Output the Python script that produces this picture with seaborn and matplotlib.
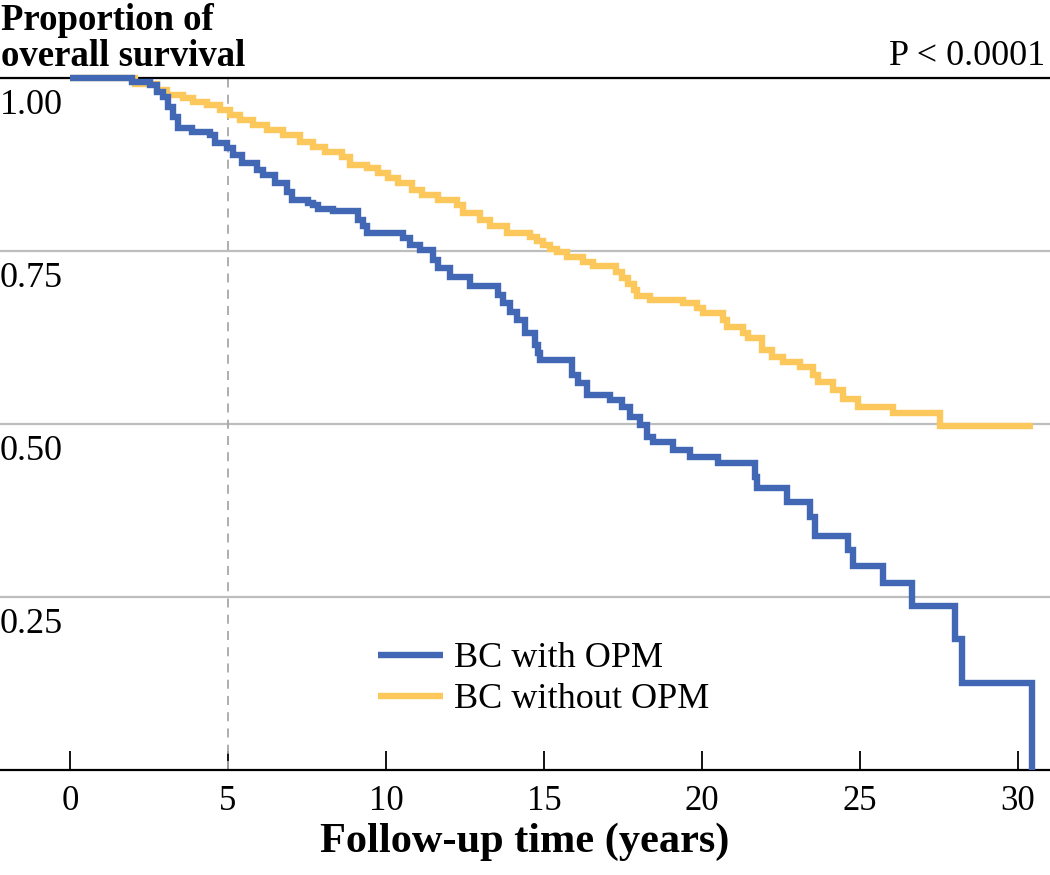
import numpy as np
import pandas as pd
import matplotlib
matplotlib.use("Agg")
import matplotlib.pyplot as plt
import matplotlib.transforms as mtransforms
from matplotlib.lines import Line2D
import seaborn as sns

# ---- data ----
with_time = [0.00, 1.96, 2.53, 2.75, 2.94, 3.10, 3.26, 3.42, 3.86, 4.43, 4.59, 4.97,
             5.16, 5.44, 5.92, 6.11, 6.49, 6.87, 7.03, 7.53, 7.69, 7.85, 8.32, 9.11,
             9.27, 9.40, 10.54, 10.76, 11.08, 11.49, 11.65, 12.03, 12.66, 13.54, 13.70,
             13.92, 14.15, 14.40, 14.72, 14.81, 14.87, 15.89, 16.08, 16.36, 17.09, 17.47,
             17.72, 18.04, 18.26, 18.45, 19.08, 19.62, 20.51, 21.68, 21.74, 22.69, 23.42,
             23.58, 24.62, 24.78, 25.73, 26.65, 28.01, 28.23, 30.44]
with_surv = [1.000, 0.994, 0.990, 0.980, 0.973, 0.958, 0.944, 0.928, 0.922, 0.918, 0.906, 0.899,
             0.889, 0.877, 0.867, 0.860, 0.848, 0.835, 0.824, 0.819, 0.816, 0.811, 0.808, 0.795,
             0.786, 0.776, 0.769, 0.759, 0.751, 0.737, 0.725, 0.712, 0.699, 0.686, 0.675,
             0.662, 0.650, 0.632, 0.614, 0.603, 0.592, 0.571, 0.559, 0.542, 0.535, 0.525,
             0.510, 0.499, 0.481, 0.474, 0.462, 0.452, 0.444, 0.423, 0.408, 0.387, 0.366,
             0.338, 0.318, 0.295, 0.270, 0.237, 0.189, 0.126, 0.000]

without_time = [0.00, 2.06, 2.75, 3.07, 3.58, 3.89, 4.34, 4.75, 5.06, 5.38, 5.79, 6.23,
                6.74, 7.28, 7.69, 8.07, 8.61, 8.86, 9.40, 9.75, 10.06, 10.38, 10.82, 11.14,
                11.65, 12.25, 12.44, 12.97, 13.29, 13.83, 14.56, 14.78, 14.97, 15.19, 15.41,
                15.73, 16.23, 16.55, 17.28, 17.47, 17.66, 17.85, 17.94, 18.35, 19.40, 19.84,
                20.03, 20.66, 20.79, 21.30, 21.46, 21.90, 22.22, 22.56, 23.10, 23.51, 23.67,
                24.15, 24.46, 24.94, 26.04, 27.53, 30.47]
without_surv = [1.000, 0.991, 0.983, 0.975, 0.971, 0.965, 0.961, 0.954, 0.947, 0.939, 0.932, 0.925,
                0.918, 0.908, 0.900, 0.893, 0.886, 0.874, 0.870, 0.863, 0.855, 0.848, 0.838, 0.831,
                0.824, 0.816, 0.805, 0.795, 0.786, 0.776, 0.770, 0.764, 0.759, 0.753, 0.749,
                0.741, 0.734, 0.728, 0.720, 0.711, 0.702, 0.694, 0.685, 0.679, 0.675, 0.668,
                0.660, 0.650, 0.640, 0.632, 0.624, 0.607, 0.597, 0.590, 0.582, 0.571, 0.561,
                0.549, 0.536, 0.525, 0.516, 0.497, 0.497]

groups = ["BC with OPM", "BC without OPM"]
colors = {"BC with OPM": "#4268B5", "BC without OPM": "#FDC85B"}
x_ticks = [0, 5, 10, 15, 20, 25, 30]
y_ticks = [0.25, 0.50, 0.75, 1.00]
y_tick_labels = ["0.25", "0.50", "0.75", "1.00"]
landmark = 5
p_text = "P < 0.0001"

df = pd.concat([
    pd.DataFrame({"t": with_time, "S": with_surv, "group": groups[0]}),
    pd.DataFrame({"t": without_time, "S": without_surv, "group": groups[1]}),
], ignore_index=True)

# ---- style ----
sns.set_theme(style="white")
plt.rcParams["font.family"] = ["Liberation Serif", "DejaVu Serif"]

W, H = 1050, 875
fig = plt.figure(figsize=(W / 100, H / 100), dpi=100)
ax = fig.add_axes([0, 1 - 770 / H, 1, (770 - 78) / H])

px_per_year = 31.6
ax.set_xlim(-70 / px_per_year, (W - 70) / px_per_year)
ax.set_ylim(0, 1.0)

# horizontal grid lines
ax.set_yticks(y_ticks)
ax.yaxis.grid(True, color="#BDBDBD", linewidth=1.6)
ax.tick_params(axis="y", left=False, labelleft=False)
ax.set_axisbelow(True)

# landmark dashed line
ax.axvline(landmark, color="#A8A8A8", linewidth=1.3, linestyle=(0, (5, 4)), zorder=1)

# survival curves (orange under blue)
sns.lineplot(data=df, x="t", y="S", hue="group", hue_order=[groups[1], groups[0]],
             palette=colors, estimator=None, sort=False, drawstyle="steps-post",
             linewidth=4.6, ax=ax, legend=False, clip_on=False, zorder=3)
for ln in ax.lines:
    ln.set_solid_capstyle("butt")
    ln.set_solid_joinstyle("miter")

# spines
for s in ["left", "right"]:
    ax.spines[s].set_visible(False)
for s in ["top", "bottom"]:
    ax.spines[s].set_visible(True)
    ax.spines[s].set_color("black")
    ax.spines[s].set_linewidth(1.6)
    ax.spines[s].set_zorder(2)

# x ticks
ax.set_xticks(x_ticks)
ax.set_xticklabels([str(v) for v in x_ticks])
ax.tick_params(axis="x", direction="in", length=14, width=1.3, color="black",
               bottom=True, labelsize=25, pad=11, labelcolor="black")
ax.set_xlabel("Follow-up time (years)", fontsize=30.5, fontweight="bold", labelpad=3, color="black")
ax.set_ylabel("")

# y tick labels inside the plot, just below each grid line
offset = mtransforms.ScaledTranslation(0, -11 / 100, fig.dpi_scale_trans)
trans = mtransforms.blended_transform_factory(ax.transAxes, ax.transData) + offset
for v, lab in zip(y_ticks, y_tick_labels):
    ax.text(0.0, v, lab, transform=trans, ha="left", va="top", fontsize=26, color="black")

# legend
handles = [Line2D([], [], color=colors[g], linewidth=4.6, solid_capstyle="butt") for g in groups]
leg = ax.legend(handles, groups, loc="upper left",
                bbox_to_anchor=(378 / W, 1 - 642 / H), bbox_transform=fig.transFigure,
                frameon=False, fontsize=26, handlelength=1.8, handletextpad=0.3,
                labelspacing=0.22, borderpad=0, borderaxespad=0)
for t in leg.get_texts():
    t.set_color("black")

# title and p-value
fig.text(1 / W, 1 - 3 / H, "Proportion of\noverall survival", ha="left", va="top",
         fontsize=26.5, fontweight="bold", linespacing=1.02, color="black")
fig.text(1045 / W, 1 - 65 / H, p_text, ha="right", va="baseline", fontsize=26, color="black")

fig.savefig("out.png", dpi=100)
